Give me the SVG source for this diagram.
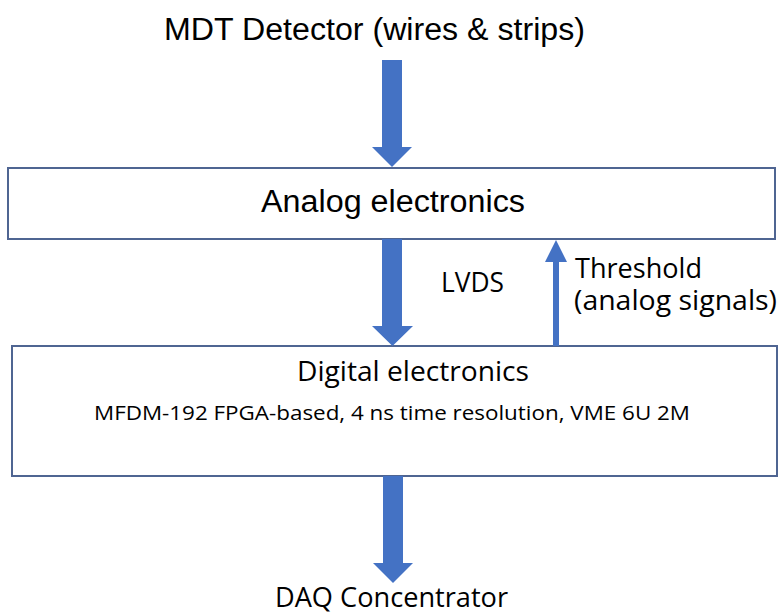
<svg xmlns="http://www.w3.org/2000/svg" width="779" height="612" viewBox="0 0 779 612">
<style>
.box{fill:#ffffff;stroke:#4f6592;stroke-width:2}
.arrow{fill:#4472C4}
.ar{font-family:"Liberation Sans",Arial,sans-serif;fill:#000}
.ca{font-family:"Open Sans","Noto Sans",sans-serif;fill:#000}
</style>
<rect width="779" height="612" fill="#ffffff"/>
<g id="title">
<text class="ar" x="164" y="40" font-size="31" textLength="421" lengthAdjust="spacingAndGlyphs">MDT Detector (wires &amp; strips)</text>
</g>
<g id="analog">
<rect class="box" x="8" y="168" width="767" height="71"/>
<text class="ar" x="261" y="212" font-size="31" textLength="264" lengthAdjust="spacingAndGlyphs">Analog electronics</text>
</g>
<g id="digital">
<rect class="box" x="12" y="346" width="765" height="130"/>
<text class="ca" x="297" y="381" font-size="28" textLength="232" lengthAdjust="spacingAndGlyphs">Digital electronics</text>
<text class="ca" x="94" y="420" font-size="20" textLength="596" lengthAdjust="spacingAndGlyphs">MFDM-192 FPGA-based, 4 ns time resolution, VME 6U 2M</text>
</g>
<g id="daq">
<text class="ca" x="275" y="607" font-size="27" textLength="233" lengthAdjust="spacingAndGlyphs">DAQ Concentrator</text>
</g>
<g id="connectors">
<polygon class="arrow" points="382,60 402,60 402,147 412,147 392,167 372,147 382,147"/>
<polygon class="arrow" points="382,239 402,239 402,326 413,326 392.5,346 372,326 382,326"/>
<polygon class="arrow" points="553,346 559,346 559,262 567,262 556,240 545,262 553,262"/>
<polygon class="arrow" points="383,476 403,476 403,563 413,563 393,583 373,563 383,563"/>
<text class="ca" x="441" y="292" font-size="28" textLength="63" lengthAdjust="spacingAndGlyphs">LVDS</text>
<text class="ca" x="575" y="278" font-size="27" textLength="127" lengthAdjust="spacingAndGlyphs">Threshold</text>
<text class="ca" x="574" y="310" font-size="27" textLength="203" lengthAdjust="spacingAndGlyphs">(analog signals)</text>
</g>
</svg>
